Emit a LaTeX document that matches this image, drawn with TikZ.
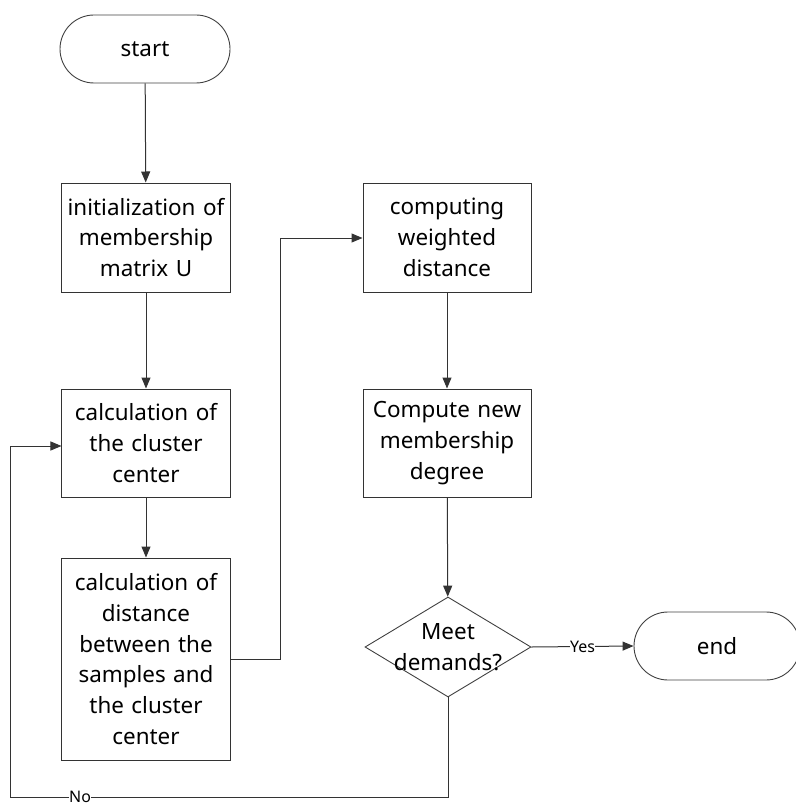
\documentclass[tikz,border=0pt]{standalone}
\usepackage{fontspec}
\setmainfont{Noto Sans}
\usetikzlibrary{shapes.geometric,shapes.misc,arrows.meta}
\begin{document}
\begin{tikzpicture}[x=1bp,y=-1bp,
  every node/.style={font=\fontsize{22.5}{31}\selectfont, text=black},
  term/.style={draw=black!75, line width=0.9bp, rounded rectangle, minimum width=170bp, minimum height=68bp, inner sep=0pt},
  proc/.style={draw=black!80, line width=1bp, minimum width=168bp, text width=166bp, align=center, inner sep=0pt},
  dec/.style={draw=black!75, line width=0.9bp, diamond, aspect=1.66, minimum width=166bp, minimum height=100bp, inner sep=0pt},
  conn/.style={draw=black!80, line width=1bp, -{Triangle[length=11bp,width=9bp]}},
  lbl/.style={font=\fontsize{16}{18}\selectfont, fill=white, inner sep=0.5bp}
]
\useasboundingbox (0,0) rectangle (796,807);
\begin{scope}
\clip (0,0) rectangle (796,807);
\node[term] (start) at (145,49) {start};
\node[proc, minimum height=109bp] (init) at (146,237.5) {initialization of\\membership\\matrix U};
\node[proc, minimum height=108bp] (calc) at (146,443) {calculation of\\the cluster\\center};
\node[proc, minimum height=202bp] (dist) at (146,659) {calculation of\\distance\\between the\\samples and\\the cluster\\center};
\node[proc, minimum height=109bp] (wd) at (447,237.5) {computing\\weighted\\distance};
\node[proc, minimum height=108bp] (newm) at (447,443) {Compute new\\membership\\degree};
\node[dec] (meet) at (448,647) {};
\node[align=center, inner sep=0pt] (meettext) at (meet.center) {Meet\\demands?};
\node[term, minimum width=166bp] (end) at (717,646) {end};
\coordinate (c1) at (280,659);
\coordinate (c2) at (280,238);
\coordinate (c3) at (448,797);
\coordinate (c4) at (10,797);
\coordinate (c5) at (10,446);
\draw[conn] (start) -- (init);
\draw[conn] (init) -- (calc);
\draw[conn] (calc) -- (dist);
\draw[conn] (dist.east |- c1) -- (c1) -- (c2) -- (wd.west |- c2);
\draw[conn] (wd) -- (newm);
\draw[conn] (newm) -- (meet);
\draw[conn] (meet.east) -- node[lbl] (yes) {Yes} (end.west);
\draw[conn] (meet.south) -- (c3) -- node[lbl, pos=0.84] (no) {No} (c4) -- (c5) -- (calc.west |- c5);
\end{scope}
\end{tikzpicture}
\end{document}
